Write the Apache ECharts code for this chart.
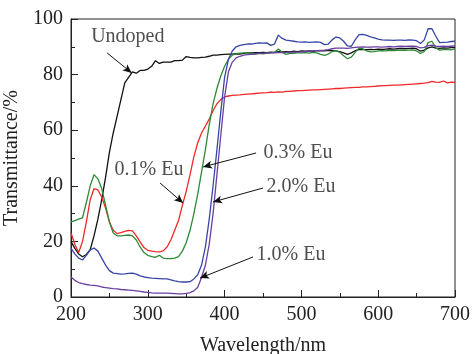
<!DOCTYPE html>
<html>
<head>
<meta charset="utf-8">
<script src="https://cdn.jsdelivr.net/npm/echarts@6/dist/echarts.min.js"></script>
<style>html,body{margin:0;padding:0;background:#fff}#c{width:472px;height:354px}</style>
</head>
<body>
<div id="c"></div>
<script>
const wavelength = [200,205,210,215,220,225,230,235,240,245,250,255,260,265,270,275,280,285,290,295,300,305,310,315,320,325,330,335,340,345,350,355,360,365,370,375,380,385,390,395,400,405,410,415,420,425,430,435,440,445,450,455,460,465,470,475,480,485,490,495,500,505,510,515,520,525,530,535,540,545,550,555,560,565,570,575,580,585,590,595,600,605,610,615,620,625,630,635,640,645,650,655,660,665,670,675,680,685,690,695,700];

const undoped = [20,17.5,15.5,14.5,15.3,17,22,28,35,43,52,59,65,71,77,79,81,80.5,81.5,81.5,82,83,85,84,84.5,84.5,84.5,85,85,85.2,86.5,86.2,86,86,86.2,86.3,86.6,87,87,87.2,87.3,87.4,87.4,87.5,87.4,87.6,87.8,87.8,87.9,87.9,88,87.9,88.1,88,88.3,88.2,88.3,88.2,88.4,88.3,88.5,88.4,88.5,88.4,88.6,88.5,88.5,88.7,88.6,88.5,88.3,87.8,87.3,87.8,88.6,89,89,89,89.1,89,89.2,89.1,89.2,89.3,89.2,89.3,89.4,89.3,89.4,89.5,89.3,88.4,88.8,89.6,90,89.5,89.4,89.6,89.5,89.7,89.8];

const eu01 = [23,19,16,20,27,35,39,38.5,36,32,27,24,22.8,23.2,23.6,24,23.8,22,19.8,17.8,16.8,16.5,16.3,16.2,16.6,18,20.5,24,27.5,33,38,44,50.5,55.5,59,61.5,64,67,69.5,71,72,72.3,72.5,72.6,72.7,72.9,73,73.1,73.2,73.3,73.4,73.5,73.7,73.6,73.8,73.7,74,74,74.1,74.2,74.2,74.3,74.4,74.5,74.5,74.6,74.7,74.8,74.9,75,75,75.1,75.2,75.3,75.4,75.4,75.6,75.6,75.7,75.8,75.9,76,76,76.1,76.2,76.2,76.3,76.4,76.5,76.6,76.7,76.8,76.9,77.1,77.6,77.3,77.2,77.7,77,77.3,77.2];

const eu03 = [27,27.5,28,28.5,34,40,44,42.5,39,33,27,23,22,22,22.2,22.3,22,20.5,18,16,15,14.5,14.3,15,14,13.8,13.8,14,14.5,16.5,19.5,24,30,37,45,53,62,69.5,75,79.5,83,85.5,87,87.5,87.7,87.8,87.8,87.5,87.4,87.6,87.5,87.7,87.8,88,89.2,88,87.3,87.6,87.6,87.8,87.8,87.9,87.7,88,87.8,87.3,86.9,87.4,88.3,88.6,88,86.8,85.7,86.3,88,89.5,89.3,88.5,88.2,88.3,88.5,88.6,88.5,88.7,88.6,88.7,88.8,88.7,88.8,88.9,88.5,87.6,88.3,91.5,92,89.6,88.8,89,89.1,88.9,89.3];

const eu10 = [17.5,15.5,14,13.3,15,17,17.6,16.5,14,11.5,9.5,8.6,8.4,8.2,8.3,8.5,8.6,8.2,7.6,7.2,7,6.8,6.7,6.6,6.5,6.5,6.2,5.8,5.5,5.4,5.4,5.5,6.5,8,11.5,18,28,40,53,66.5,79,85.5,88.5,90,90.5,90.8,91,91,91.2,91.4,91.3,91.4,90.5,91,94.2,93,92.4,92.2,92,91.8,91.7,91.8,91.6,91.7,91.8,91.6,90.8,91,92.5,93.5,93.2,92,90.3,90.2,92.5,94.4,94.5,94.1,93.6,93.2,92.8,92.5,92.4,92.4,92.3,92.4,92.4,92.3,92.5,92.4,92.2,91.2,92.5,96.5,96.5,93.8,91.5,91.6,91.7,91.9,92];

const eu20 = [7.2,6,5.2,4.8,4.5,4.3,4.2,4,3.6,3.4,3.2,3,2.9,2.7,2.6,2.5,2.4,2.2,2,1.8,1.7,1.5,1.4,1.4,1.4,1.4,1.3,1.2,1.1,1.1,1.3,1.6,2.2,3.5,7,11.5,19,30,44,58,72,81,84.5,86,86.6,87,87.2,87.3,87.5,87.6,87.6,87.7,87.8,87.8,87.9,87.9,88,88,88.1,88.1,88.2,88.3,88.4,88.5,88.6,88.7,88.8,89,89.3,89.5,89.5,89.5,89.4,89.6,89.8,89.9,90,89.9,89.9,90,90,89.9,90,90.1,90,90.1,90.2,90.1,90.2,90.2,90.1,89.6,89.8,90.4,90.6,90.2,90.1,90.2,90.1,90.2,90.3];

const xTicks = [200,300,400,500,600,700];
const yTicks = [0,20,40,60,80,100];

// annotation texts (centre in data units) and arrows (from, to in data units)
const labelTexts = ['Undoped','0.1% Eu','0.3% Eu','2.0% Eu','1.0% Eu'];
const labelPos = [[274,93.5],[301.6,45.7],[495.6,51.8],[499.5,39.6],[486.5,15.1]];
const arrowFrom = [[247,87.8],[316,41],[441,51.8],[450,39.2],[437,14.4]];
const arrowTo = [[279,80.6],[346,33.8],[372,46.8],[385,34.2],[368,6.8]];

const FONT = 'Liberation Serif';
const chart = echarts.init(document.getElementById('c'), null, {renderer:'canvas'});

function pairs(ys){ return wavelength.map((x,i)=>[x, ys[i]]); }
function line(name, ys, color){
  return {name, type:'line', data:pairs(ys), showSymbol:false, symbol:'none',
    lineStyle:{color, width:1.3}, itemStyle:{color}, animation:false, z:2, silent:true};
}

const series = [
  line('Undoped', undoped, '#111111'),
  line('0.1% Eu', eu01, '#f02828'),
  line('0.3% Eu', eu03, '#2e8a36'),
  line('1.0% Eu', eu10, '#3646a6'),
  line('2.0% Eu', eu20, '#6a3fa4'),
  {
    type:'scatter', data: labelPos.map((p,i)=>({value:p, name:labelTexts[i]})),
    symbolSize:1, itemStyle:{color:'rgba(0,0,0,0)'}, silent:true, animation:false, z:5,
    label:{show:true, position:'inside', formatter:p=>p.name, fontFamily:FONT, fontSize:20, color:'#222', align:'center', verticalAlign:'middle'},
    markLine:{
      silent:true, animation:false, symbol:['none','arrow'], symbolSize:[6,9],
      lineStyle:{color:'#111', width:1, type:'solid'}, label:{show:false},
      data: arrowFrom.map((f,i)=>[{coord:f},{coord:arrowTo[i]}])
    }
  }
];

chart.setOption({
  backgroundColor:'#fff',
  animation:false,
  grid:{left:71, right:17, top:19, bottom:57, containLabel:false, outerBoundsMode:'none', show:true, borderColor:'#222', borderWidth:1, backgroundColor:'transparent'},
  xAxis:{type:'value', min:200, max:700, interval:100,
    name:'Wavelength/nm', nameLocation:'middle', nameGap:39,
    nameTextStyle:{fontFamily:FONT, fontSize:20, color:'#222'},
    axisLine:{show:true, lineStyle:{color:'#222', width:1}},
    axisTick:{show:true, inside:true, length:7, lineStyle:{color:'#222'}},
    minorTick:{show:true, splitNumber:2, length:4, lineStyle:{color:'#222'}},
    axisLabel:{fontFamily:FONT, fontSize:20, color:'#222', margin:8, formatter:v=>xTicks.includes(v)?String(v):''},
    splitLine:{show:false}},
  yAxis:{type:'value', min:0, max:100, interval:20,
    name:'Transmittance/%', nameLocation:'middle', nameGap:37,
    nameTextStyle:{fontFamily:FONT, fontSize:20, color:'#222'},
    axisLine:{show:true, lineStyle:{color:'#222', width:1}},
    axisTick:{show:true, inside:true, length:7, lineStyle:{color:'#222'}},
    minorTick:{show:true, splitNumber:2, length:4, lineStyle:{color:'#222'}},
    axisLabel:{fontFamily:FONT, fontSize:20, color:'#222', margin:8, formatter:v=>yTicks.includes(v)?String(v):''},
    splitLine:{show:false}},
  series
});
</script>
</body>
</html>
